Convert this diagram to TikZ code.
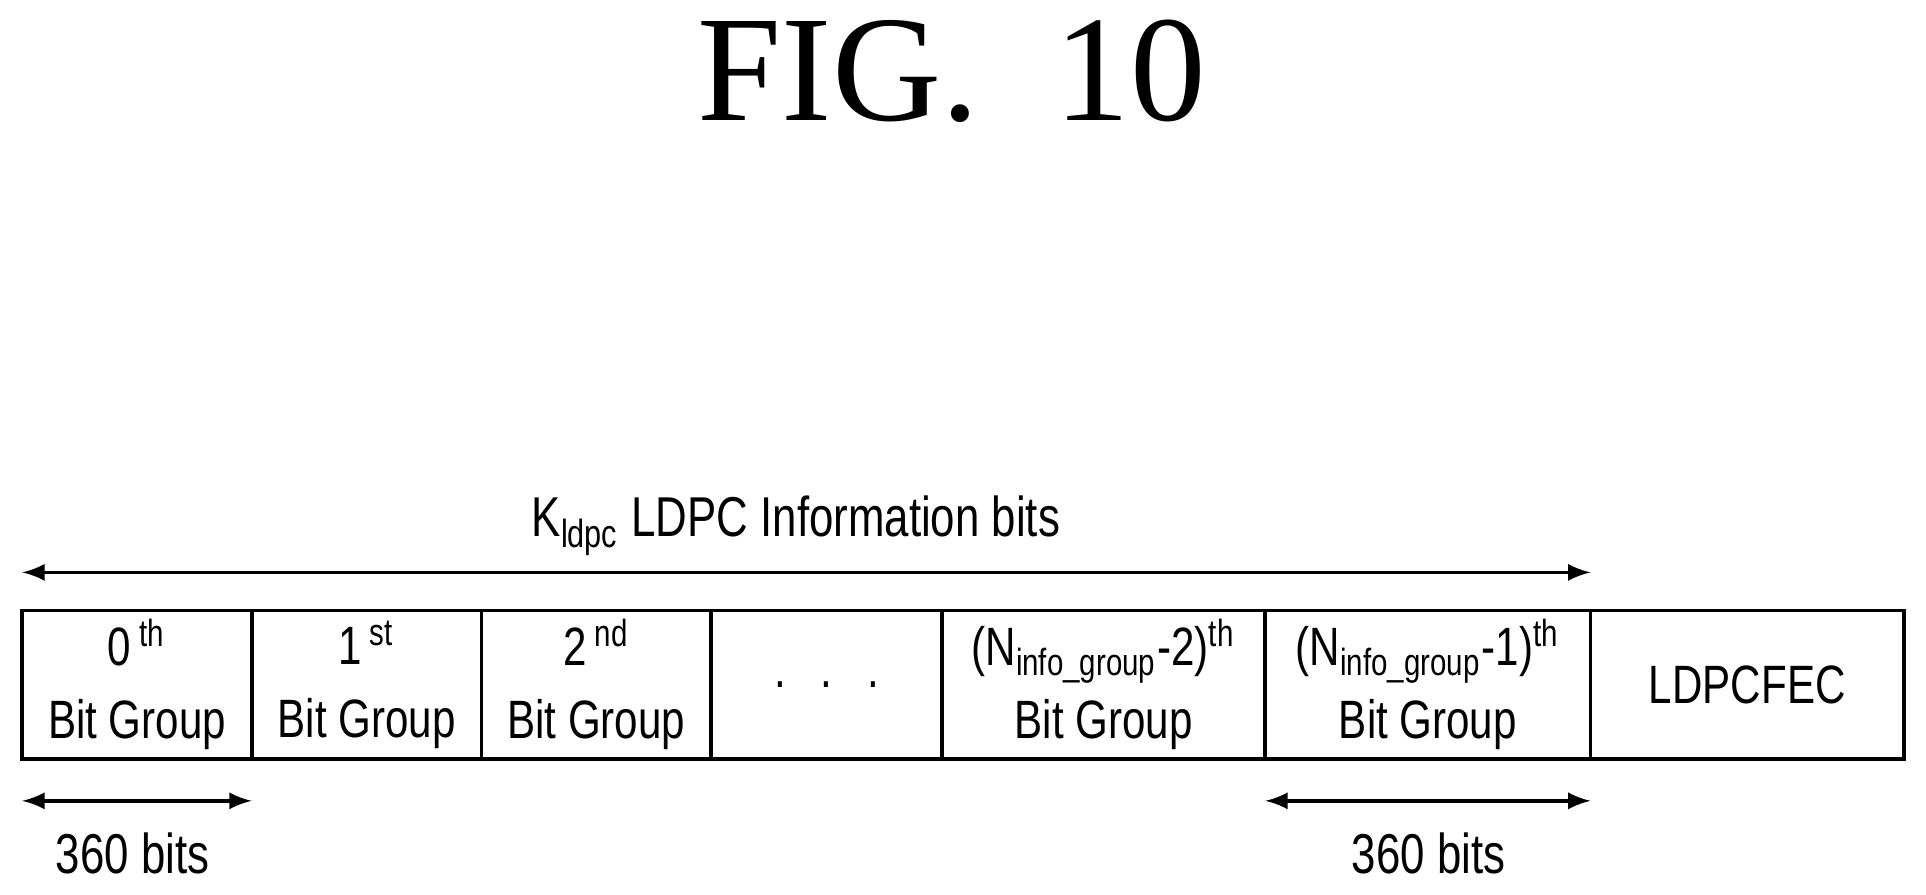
\documentclass[tikz,border=0pt]{standalone}
\usepackage{fontspec}
\setmainfont{Liberation Serif}
\newfontfamily\narrowsans[FakeStretch=0.78]{Liberation Sans}
\usetikzlibrary{positioning}
\tikzset{
  cell/.style={draw, minimum height=1.21cm, inner sep=0pt, outer sep=0pt, align=center, font=\narrowsans\fontsize{12.5}{17}\selectfont, line width=0.8pt},
  span/.style={<->, >=latex, line width=0.8pt},
  lbl/.style={font=\narrowsans\fontsize{13}{15}\selectfont}
}
\begin{document}
\begin{tikzpicture}[x=0.01cm,y=-0.01cm]
  \useasboundingbox (0,0) rectangle (1568,728);
  \node[font=\fontsize{35}{40}\selectfont] (title) at (775,58) {FIG.\ \ 10};
  % cells
  \node[cell, minimum width=1.87cm] (g0) at (111.5,557.5) {0\textsuperscript{ th}\\Bit Group};
  \node[cell, minimum width=1.87cm] (g1) at (298.5,557.5) {1\textsuperscript{ st}\\Bit Group};
  \node[cell, minimum width=1.87cm] (g2) at (485.5,557.5) {2\textsuperscript{ nd}\\Bit Group};
  \node[cell, minimum width=1.88cm] (dots) at (673,557.5) {.\ \ \ .\ \ \ .};
  \node[cell, minimum width=2.63cm] (gm2) at (898.5,557.5) {(N\textsubscript{info\_group}-2)\textsuperscript{th}\\Bit Group};
  \node[cell, minimum width=2.65cm] (gm1) at (1162.5,557.5) {(N\textsubscript{info\_group}-1)\textsuperscript{th}\\Bit Group};
  \node[cell, minimum width=2.55cm] (fec) at (1422.5,557.5) {LDPCFEC};
  % arrows
  \coordinate (ka) at (18,466);
  \coordinate (kb) at (1295,466);
  \draw[span] (ka) -- (kb);
  \node[lbl] (ktext) at (648,428) {K\textsubscript{ldpc} LDPC Information bits};
  \coordinate (la) at (18,652);
  \coordinate (lb) at (205,652);
  \draw[span] (la) -- (lb);
  \node[lbl] (lbits) at (108,695) {360 bits};
  \coordinate (ra) at (1030,652);
  \coordinate (rb) at (1295,652);
  \draw[span] (ra) -- (rb);
  \node[lbl] (rbits) at (1163,695) {360 bits};
\end{tikzpicture}
\end{document}
